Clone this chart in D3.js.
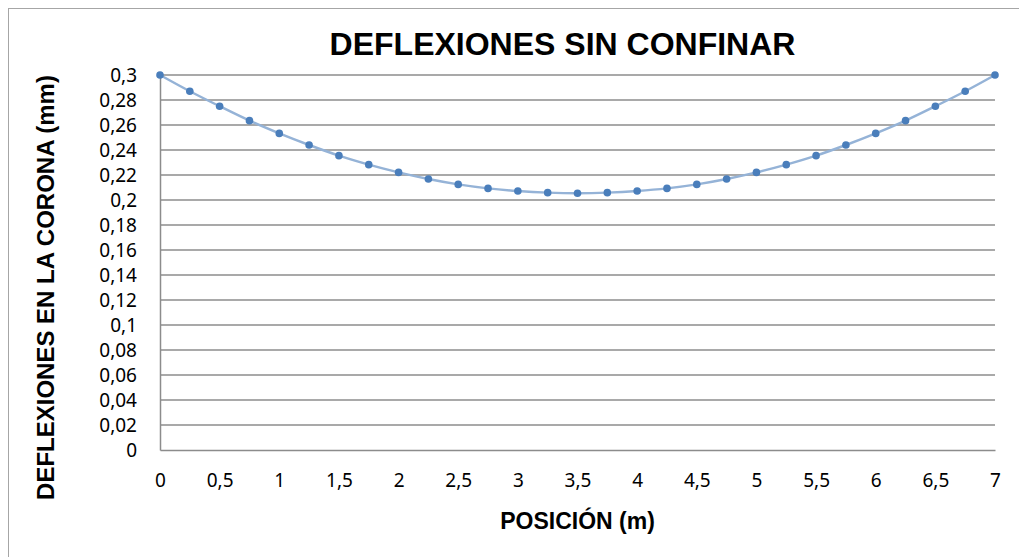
<!DOCTYPE html>
<html>
<head>
<meta charset="utf-8">
<script src="https://cdn.jsdelivr.net/npm/d3@7"></script>
<style>
  body { margin: 0; background: #fff; }
</style>
</head>
<body>
<div id="chart"></div>
<script>
// position along the crown (m)
const positions = [0, 0.25, 0.5, 0.75, 1, 1.25, 1.5, 1.75, 2, 2.25, 2.5, 2.75, 3, 3.25, 3.5,
                   3.75, 4, 4.25, 4.5, 4.75, 5, 5.25, 5.5, 5.75, 6, 6.25, 6.5, 6.75, 7];
// deflections (mm)
const deflections = [0.300, 0.287, 0.275, 0.2635, 0.2533, 0.244, 0.2355, 0.2283, 0.2221, 0.2168,
                     0.2125, 0.2093, 0.2072, 0.2059, 0.2054, 0.2059, 0.2072, 0.2093, 0.2125, 0.2168,
                     0.2221, 0.2283, 0.2355, 0.244, 0.2533, 0.2635, 0.275, 0.287, 0.300];
const xTicks = [0, 0.5, 1, 1.5, 2, 2.5, 3, 3.5, 4, 4.5, 5, 5.5, 6, 6.5, 7];
const yTicks = [0, 0.02, 0.04, 0.06, 0.08, 0.1, 0.12, 0.14, 0.16, 0.18, 0.2, 0.22, 0.24, 0.26, 0.28, 0.3];

const data = positions.map((p, i) => ({x: p, y: deflections[i]}));

const W = 1019, H = 557;
const margin = {top: 75, right: 24, bottom: 107, left: 160};
const width = W - margin.left - margin.right,
      height = H - margin.top - margin.bottom;

const svg = d3.select("#chart").append("svg")
  .attr("width", W).attr("height", H);

// outer chart frame
svg.append("rect")
  .attr("x", 8.5).attr("y", 8.5)
  .attr("width", W + 50).attr("height", H + 50)
  .attr("fill", "none").attr("stroke", "#a6a6a6").attr("stroke-width", 1);

const g = svg.append("g").attr("transform", `translate(${margin.left},${margin.top})`);

const x = d3.scaleLinear().domain([0, 7]).range([0, width]);
const y = d3.scaleLinear().domain([0, 0.3]).range([height, 0]);

const fmt = d => String(+d.toFixed(2)).replace(".", ",");

// gridlines
g.append("g")
  .selectAll("line")
  .data(yTicks.filter(d => d > 0))
  .enter().append("line")
  .attr("x1", 0).attr("x2", width)
  .attr("y1", d => y(d)).attr("y2", d => y(d))
  .attr("stroke", "#8c8c8c").attr("stroke-width", 1.5);

// axes
const yAxis = g.append("g")
  .call(d3.axisLeft(y).tickValues(yTicks).tickFormat(fmt).tickSize(0).tickPadding(23));
const xAxis = g.append("g")
  .attr("transform", `translate(0,${height})`)
  .call(d3.axisBottom(x).tickValues(xTicks).tickFormat(fmt).tickSize(0).tickPadding(24));

[yAxis, xAxis].forEach(a => {
  a.select(".domain").attr("stroke", "#8c8c8c").attr("stroke-width", 1.5);
  a.selectAll("text")
    .attr("fill", "#000")
    .style("font-family", "'Noto Sans', 'Open Sans', sans-serif")
    .style("font-size", "19px");
});

// smoothed line
g.append("path")
  .datum(data)
  .attr("fill", "none")
  .attr("stroke", "#95b3d7")
  .attr("stroke-width", 2.5)
  .attr("d", d3.line()
    .x(d => x(d.x))
    .y(d => y(d.y))
    .curve(d3.curveCatmullRom));

// markers
g.append("g")
  .selectAll("circle")
  .data(data)
  .enter().append("circle")
  .attr("cx", d => x(d.x))
  .attr("cy", d => y(d.y))
  .attr("r", 3.8)
  .attr("fill", "#4a7ebb");

// titles
svg.append("text")
  .attr("x", margin.left + width / 2 - 15).attr("y", 55)
  .attr("text-anchor", "middle")
  .style("font-family", "'Liberation Sans', Arial, sans-serif")
  .style("font-weight", "bold").style("font-size", "32px")
  .text("DEFLEXIONES SIN CONFINAR");

svg.append("text")
  .attr("x", margin.left + width / 2).attr("y", 529)
  .attr("text-anchor", "middle")
  .style("font-family", "'Liberation Sans', Arial, sans-serif")
  .style("font-weight", "bold").style("font-size", "23px")
  .text("POSICIÓN (m)");

svg.append("text")
  .attr("transform", `translate(54,${margin.top + height / 2 + 25}) rotate(-90)`)
  .attr("text-anchor", "middle")
  .style("font-family", "'Liberation Sans', Arial, sans-serif")
  .style("font-weight", "bold").style("font-size", "24px")
  .text("DEFLEXIONES EN LA CORONA (mm)");
</script>
</body>
</html>
